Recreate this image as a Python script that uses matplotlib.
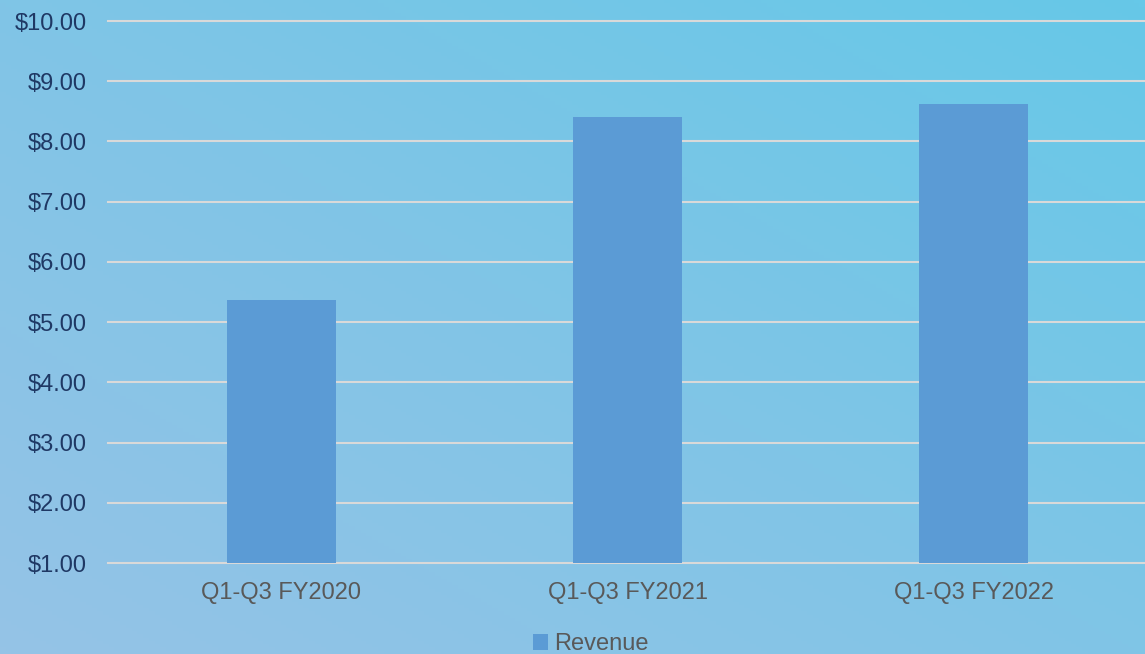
import numpy as np
import matplotlib
matplotlib.use("Agg")
import matplotlib.pyplot as plt
from matplotlib.colors import LinearSegmentedColormap
from matplotlib.ticker import FuncFormatter

categories = ["Q1-Q3 FY2020", "Q1-Q3 FY2021", "Q1-Q3 FY2022"]
revenue = [5.37, 8.41, 8.63]
y_ticks = [1, 2, 3, 4, 5, 6, 7, 8, 9, 10]

plt.rcParams["font.family"] = ["Liberation Sans", "DejaVu Sans"]

fig = plt.figure(figsize=(11.45, 6.54), dpi=100)

# diagonal gradient background: bottom-left lavender blue -> top-right cyan
bg = fig.add_axes([0, 0, 1, 1], zorder=-10)
xx, yy = np.meshgrid(np.linspace(0, 1, 200), np.linspace(0, 1, 200))
grad = (xx + yy) / 2
cmap = LinearSegmentedColormap.from_list("bg", ["#95c3e6", "#80c5e6", "#66c8e8"])
bg.imshow(grad, cmap=cmap, origin="lower", extent=[0, 1, 0, 1], aspect="auto")
bg.axis("off")

ax = fig.add_axes([108 / 1145, 1 - 563 / 654, (1147 - 108) / 1145, (563 - 21) / 654])
ax.patch.set_alpha(0)

x = np.arange(len(categories))
ax.bar(x, np.array(revenue) - 1, bottom=1, width=0.315, color="#5b9bd5", zorder=3, label="Revenue")

ax.set_xlim(-0.5, 2.5)
ax.set_ylim(1, 10)
ax.set_yticks(y_ticks)
ax.yaxis.set_major_formatter(FuncFormatter(lambda v, p: "${:.2f}".format(v)))
ax.set_xticks(x)
ax.set_xticklabels(categories)
ax.grid(axis="y", color="#d9d9d9", linewidth=1.5, zorder=1)
for gl in ax.get_ygridlines():
    gl.set_clip_on(False)
for s in ax.spines.values():
    s.set_visible(False)
ax.tick_params(axis="y", length=0, pad=15, labelsize=17, labelcolor="#1f3864")
ax.tick_params(axis="x", length=0, pad=14, labelsize=17, labelcolor="#595959")

leg = fig.legend(loc="center", bbox_to_anchor=(591 / 1145, 1 - 644 / 654), frameon=False,
                 fontsize=17, handlelength=0.65, handleheight=0.65, handletextpad=0.25,
                 labelcolor="#595959")

fig.savefig("out.png", dpi=100)
